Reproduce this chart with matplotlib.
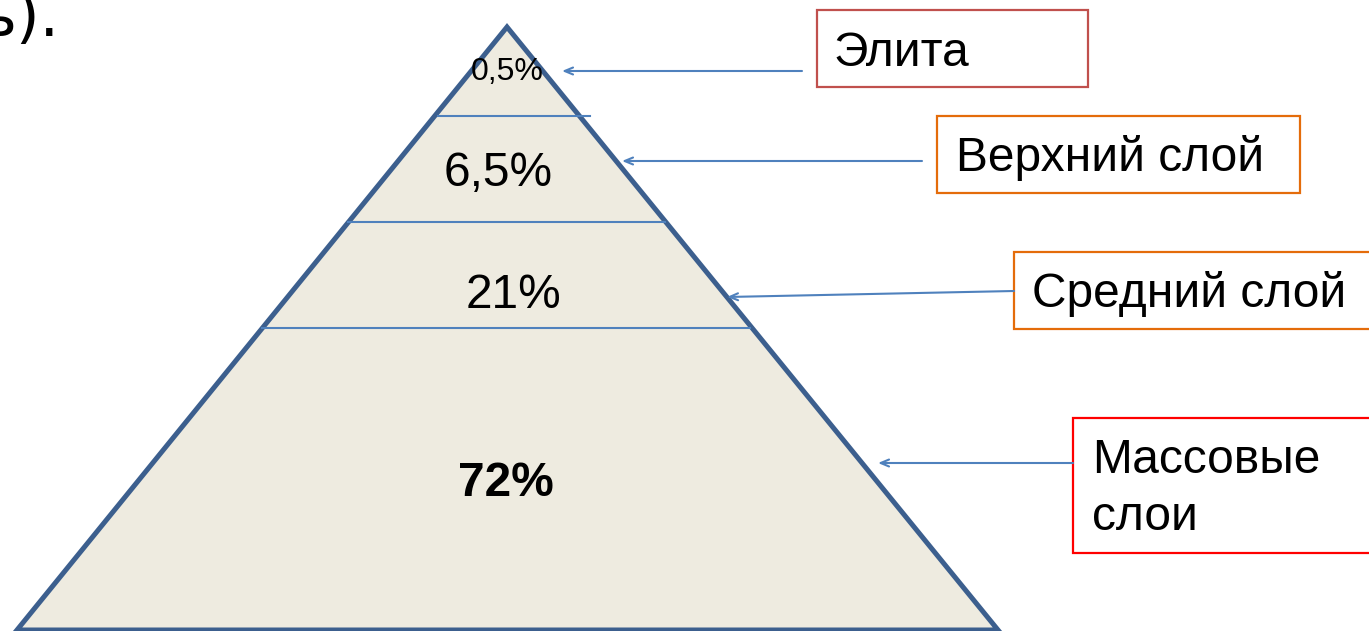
import matplotlib
matplotlib.use("Agg")
import matplotlib.pyplot as plt
from matplotlib.patches import Polygon, Rectangle

plt.rcParams['font.family'] = ['Liberation Sans', 'DejaVu Sans']

# Data
layers = ["Элита", "Верхний слой", "Средний слой", "Массовые\nслои"]
shares = ["0,5%", "6,5%", "21%", "72%"]
share_bold = [False, False, False, True]
share_size = [23, 34.5, 34.5, 34.5]

# Layout (pixel coordinates, y down)
apex = (507, 27)
base_l = (17, 630)
base_r = (998, 630)
dividers = [(116, 438, 590), (222, 348, 665), (328, 262, 750)]
share_pos = [(507, 80), (498, 186), (513, 308), (506, 496)]  # baseline
boxes = [  # x0, y0, x1, y1, color, text x, text baseline y
    (817, 10, 1088, 87, '#C0504D', 834, 66),
    (937, 116, 1300, 193, '#E46C0A', 956, 171),
    (1014, 252, 1380, 329, '#E46C0A', 1032, 307),
    (1073, 418, 1380, 553, '#FF0000', 1092, 473),
]
line_step = 57
arrows = [((802, 71), (562, 71)), ((922, 161), (622, 161)),
          ((1014, 291), (727, 297)), ((1073, 463), (878, 463))]

W, H = 1369, 631
fig = plt.figure(figsize=(W / 100, H / 100), dpi=100)
ax = fig.add_axes([0, 0, 1, 1])
ax.set_xlim(0, W)
ax.set_ylim(H, 0)
ax.axis('off')

tri = Polygon([apex, base_r, base_l], closed=True, facecolor='#EEEBE0',
              edgecolor='#3C5F8E', linewidth=3.6, joinstyle='miter', zorder=2)
ax.add_patch(tri)

for y, x0, x1 in dividers:
    ax.plot([x0, x1], [y, y], color='#4F81BD', lw=1.5, zorder=3)

for s, (x, y), b, fs in zip(shares, share_pos, share_bold, share_size):
    ax.text(x, y, s, ha='center', va='baseline', fontsize=fs,
            fontweight='bold' if b else 'normal', color='black', zorder=4)

for (x0, y0, x1, y1, c, tx, ty), lab in zip(boxes, layers):
    ax.add_patch(Rectangle((x0, y0), x1 - x0, y1 - y0, facecolor='white',
                           edgecolor=c, linewidth=1.6, zorder=3, clip_on=False))
    for i, line in enumerate(lab.split('\n')):
        ax.text(tx, ty + i * line_step, line, ha='left', va='baseline',
                fontsize=34.5, color='black', zorder=4)

for (s, e) in arrows:
    ax.annotate('', xy=e, xytext=s,
                arrowprops=dict(arrowstyle='->,head_length=0.6,head_width=0.25',
                                color='#4F81BD', lw=1.5, shrinkA=0, shrinkB=0),
                zorder=4)

ax.text(60, 36, "ь).", ha='right', va='baseline', fontsize=44,
        family='DejaVu Sans', color='black')

fig.savefig('out.png', dpi=100)
